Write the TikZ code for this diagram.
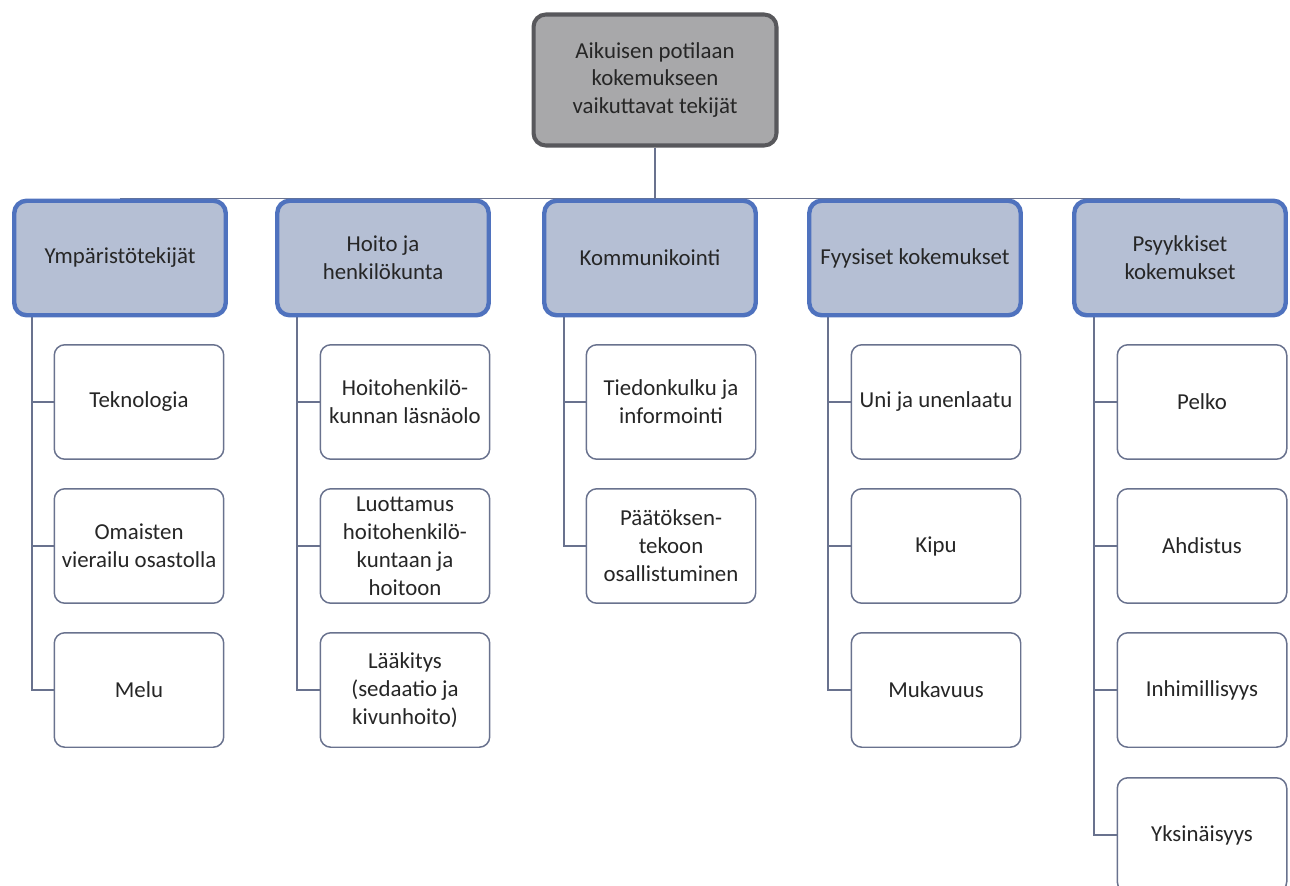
\documentclass[tikz,border=0pt]{standalone}
\usepackage{fontspec}
\setmainfont{Carlito}
\usepackage{tikz}
\usetikzlibrary{calc,backgrounds}
\usepackage{xcolor}
\definecolor{chartgray}{RGB}{168,168,170}
\definecolor{chartdark}{RGB}{88,88,92}
\definecolor{chartblue}{RGB}{79,114,190}
\definecolor{chartpale}{RGB}{181,191,212}
\definecolor{chartline}{RGB}{105,114,142}
\definecolor{charttext}{RGB}{38,38,38}

\tikzset{
  rootbox/.style={draw=chartdark,fill=chartgray,line width=2.3pt,rounded corners=7pt,
    minimum width=4.86cm,minimum height=2.62cm,align=center,inner sep=2pt},
  groupbox/.style={draw=chartblue,fill=chartpale,line width=2.5pt,rounded corners=7pt,
    minimum width=4.23cm,minimum height=2.29cm,align=center,inner sep=2pt},
  itembox/.style={draw=chartline,fill=white,line width=0.85pt,rounded corners=6pt,
    minimum width=3.39cm,minimum height=2.29cm,align=center,inner sep=2pt},
  link/.style={draw=chartline,line width=0.85pt}
}

\begin{document}
\begin{tikzpicture}[x=0.02cm,y=-0.02cm,
    every node/.style={font=\fontsize{13}{15.9}\selectfont,text=charttext}]
  \useasboundingbox (0,0) rectangle (1290,885);
  \clip (0,0) rectangle (1290,885);

  \node[rootbox] (root) at (655,80) {Aikuisen potilaan\\kokemukseen\\vaikuttavat tekijät};

  \node[groupbox] (ymp) at (120,258) {Ympäristötekijät};
  \node[groupbox] (hoi) at (383,258) {Hoito ja\\henkilökunta};
  \node[groupbox] (kom) at (650,258) {Kommunikointi};
  \node[groupbox] (fyy) at (915,258) {Fyysiset kokemukset};
  \node[groupbox] (psy) at (1180,258) {Psyykkiset\\kokemukset};

  \node[itembox] (tek) at (139,402) {Teknologia};
  \node[itembox] (oma) at (139,546) {Omaisten\\vierailu osastolla};
  \node[itembox] (mel) at (139,690) {Melu};

  \node[itembox] (las) at (405,402) {Hoitohenkilö-\\kunnan läsnäolo};
  \node[itembox] (luo) at (405,546) {Luottamus\\hoitohenkilö-\\kuntaan ja\\hoitoon};
  \node[itembox] (laa) at (405,690) {Lääkitys\\(sedaatio ja\\kivunhoito)};

  \node[itembox] (tie) at (671,402) {Tiedonkulku ja\\informointi};
  \node[itembox] (paa) at (671,546) {Päätöksen-\\tekoon\\osallistuminen};

  \node[itembox] (uni) at (936,402) {Uni ja unenlaatu};
  \node[itembox] (kip) at (936,546) {Kipu};
  \node[itembox] (muk) at (936,690) {Mukavuus};

  \node[itembox] (pel) at (1202,402) {Pelko};
  \node[itembox] (ahd) at (1202,546) {Ahdistus};
  \node[itembox] (inh) at (1202,690) {Inhimillisyys};
  \node[itembox] (yks) at (1202,835) {Yksinäisyys};

  \begin{scope}[on background layer]
    \draw[link] (root.south) -- (root.south |- kom.north);
    \draw[link] (ymp.north) -- (psy.north);

    \draw[link] ($(ymp.south west)+(20,0)$) |- (tek.west);
    \draw[link] ($(ymp.south west)+(20,0)$) |- (oma.west);
    \draw[link] ($(ymp.south west)+(20,0)$) |- (mel.west);

    \draw[link] ($(hoi.south west)+(22,0)$) |- (las.west);
    \draw[link] ($(hoi.south west)+(22,0)$) |- (luo.west);
    \draw[link] ($(hoi.south west)+(22,0)$) |- (laa.west);

    \draw[link] ($(kom.south west)+(22,0)$) |- (tie.west);
    \draw[link] ($(kom.south west)+(22,0)$) |- (paa.west);

    \draw[link] ($(fyy.south west)+(21,0)$) |- (uni.west);
    \draw[link] ($(fyy.south west)+(21,0)$) |- (kip.west);
    \draw[link] ($(fyy.south west)+(21,0)$) |- (muk.west);

    \draw[link] ($(psy.south west)+(22,0)$) |- (pel.west);
    \draw[link] ($(psy.south west)+(22,0)$) |- (ahd.west);
    \draw[link] ($(psy.south west)+(22,0)$) |- (inh.west);
    \draw[link] ($(psy.south west)+(22,0)$) |- (yks.west);
  \end{scope}
\end{tikzpicture}
\end{document}
